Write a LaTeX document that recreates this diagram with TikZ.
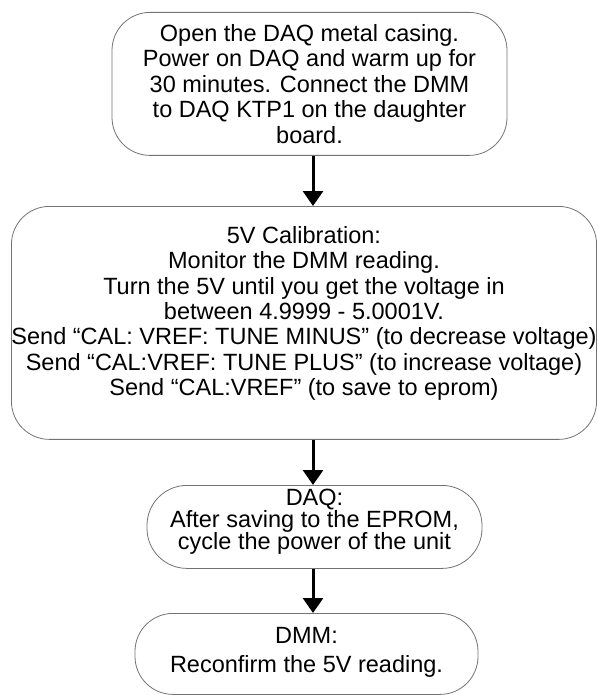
\documentclass[tikz,border=0pt]{standalone}
\usepackage{fontspec}
\setmainfont{Liberation Sans}
\usetikzlibrary{arrows.meta}
\setlength{\lineskiplimit}{-20pt}
\newcommand{\padtop}[1]{\rule{0pt}{#1pt}}
\newcommand{\padbot}[1]{\rule[-#1pt]{0pt}{#1pt}}
\tikzset{%
stepbox/.style={draw=black!55, line width=0.8pt, rounded corners=38pt,
    inner sep=0pt, align=center, anchor=north,
    font=\fontsize{23.5}{25.5}\selectfont},
%
flow/.style={line width=3pt, -{Triangle[width=20pt,length=15pt]}},
}
\begin{document}
\begin{tikzpicture}[x=1pt,y=-1pt]
        \useasboundingbox (0,0) rectangle (597,695);
        \coordinate (spine) at (313,0);
        \node[stepbox, minimum width=395pt] (open) at (309.5,12)
            {\padtop{29}Open the DAQ metal casing.\\ Power on DAQ and warm up for\\
             30 minutes. Connect the DMM\\ to DAQ KTP1 on the daughter\\ board.\padbot{12}};
        \node[stepbox, minimum width=584pt, font=\fontsize{23.5}{25.33}\selectfont] (calib) at (304,206)
            {\padtop{37}5V Calibration:\\ Monitor the DMM reading.\\
             Turn the 5V until you get the voltage in\\ between 4.9999 - 5.0001V.\\
             Send “CAL: VREF: TUNE MINUS” (to decrease voltage)\\
             Send “CAL:VREF: TUNE PLUS” (to increase voltage)\\
             Send “CAL:VREF” (to save to eprom)\padbot{44}};
        \node[stepbox, minimum width=335pt, rounded corners=40pt, font=\fontsize{23.5}{22}\selectfont] (daq) at (314.5,485)
            {\padtop{20}DAQ:\\ After saving to the EPROM,\\ cycle the power of the unit\padbot{19}};
        \node[stepbox, minimum width=343pt, font=\fontsize{23.5}{29}\selectfont] (dmm) at (306.5,613)
            {\padtop{30}DMM:\\ Reconfirm the 5V reading.\padbot{22}};
        \draw[flow] (open.south -| spine) -- (calib.north -| spine);
        \draw[flow] (calib.south -| spine) -- (daq.north -| spine);
        \draw[flow] (daq.south -| spine) -- (dmm.north -| spine);
\end{tikzpicture}
\end{document}
